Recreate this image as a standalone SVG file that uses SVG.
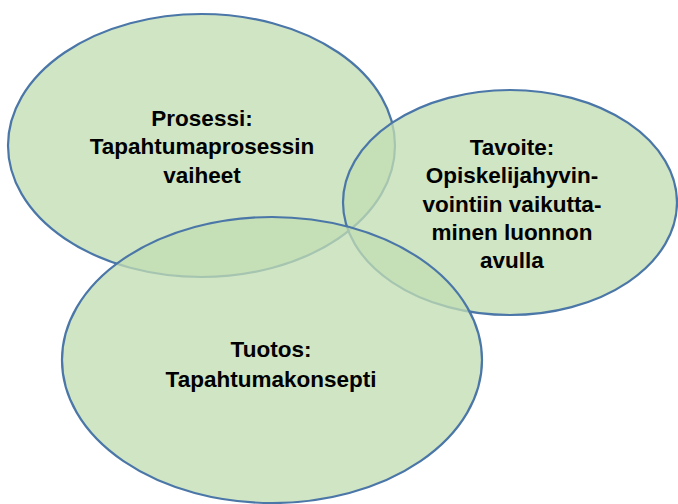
<svg xmlns="http://www.w3.org/2000/svg" width="678" height="504" viewBox="0 0 678 504">
<style>
.c{fill:#c2ddb2;fill-opacity:0.77;stroke:#4a76a8;stroke-width:2.2}
.t{font-family:"Liberation Sans",Arial,sans-serif;font-weight:bold;font-size:22.5px;fill:#000;text-anchor:middle}
</style>
<rect width="678" height="504" fill="#fff"/>
<g id="prosessi">
<ellipse class="c" cx="201.5" cy="145.5" rx="193.5" ry="131.5"/>
<text class="t"><tspan x="202" y="126">Prosessi:</tspan><tspan x="202" y="154">Tapahtumaprosessin</tspan><tspan x="202" y="183">vaiheet</tspan></text>
</g>
<g id="tavoite">
<ellipse class="c" cx="510" cy="202.5" rx="167" ry="112.5"/>
<text class="t"><tspan x="512" y="155">Tavoite:</tspan><tspan x="512" y="183">Opiskelijahyvin-</tspan><tspan x="512" y="212">vointiin vaikutta-</tspan><tspan x="512" y="240">minen luonnon</tspan><tspan x="512" y="268">avulla</tspan></text>
</g>
<g id="tuotos">
<ellipse class="c" cx="272" cy="360" rx="210" ry="143"/>
<text class="t"><tspan x="271" y="357">Tuotos:</tspan><tspan x="271" y="387">Tapahtumakonsepti</tspan></text>
</g>
<g id="connectors"/>
</svg>
